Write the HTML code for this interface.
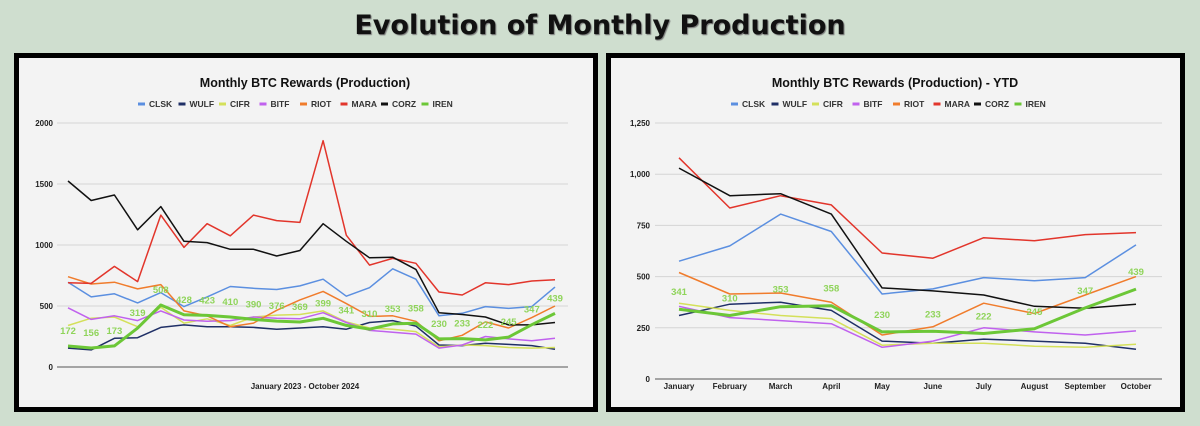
<!DOCTYPE html>
<html><head><meta charset="utf-8">
<style>
html,body{margin:0;padding:0;background:#cfdecf;width:1200px;height:426px;overflow:hidden;font-family:"Liberation Sans",sans-serif}
</style></head>
<body>
<svg id="svg" width="1200" height="426" xmlns="http://www.w3.org/2000/svg">
<rect x="0" y="0" width="1200" height="426" fill="#cfdecf"/>
<text x="600" y="34" text-anchor="middle" font-family="DejaVu Sans, sans-serif" font-weight="bold" font-size="27" fill="#111" style="text-shadow:1px 1px 1px #777">Evolution of Monthly Production</text>
<rect x="16.5" y="55.5" width="579" height="354" fill="#f3f3f3" stroke="#000" stroke-width="5"/>
<rect x="608.5" y="55.5" width="574" height="354" fill="#f3f3f3" stroke="#000" stroke-width="5"/>
<g id="left"></g>
<g id="right"></g>
</svg>
<script>
const series = ["CLSK","WULF","CIFR","BITF","RIOT","MARA","CORZ","IREN"];
const colors = ["#5b8fe0","#1f2f66","#d4e05a","#c061ee","#f07c2c","#e2352b","#111111","#6cc737"];
// Left chart: Jan 2023 - Oct 2024
const leftClsk = [695,575,600,525,610,495,575,660,645,635,665,720,580,650,805,720,420,440,495,480,495,655];
const leftWulf = [155,140,235,240,325,345,330,330,325,310,320,330,310,365,380,335,180,175,195,185,175,145];
const leftCifr = [340,400,410,330,490,360,395,340,410,425,430,460,370,320,310,290,165,180,175,160,155,160];
const leftBitf = [485,390,420,380,460,385,375,380,410,400,395,445,365,300,285,270,155,180,250,230,215,235];
const leftRiot = [740,680,695,640,675,460,420,330,360,465,550,620,520,415,420,375,215,260,370,320,405,500];
const leftMara = [690,685,825,700,1245,980,1175,1075,1245,1200,1185,1855,1080,835,890,850,615,590,690,675,705,715];
const leftCorz = [1525,1365,1410,1125,1315,1030,1020,965,965,910,955,1175,1030,895,900,800,445,430,410,345,345,365];
const leftIren = [172,156,173,319,508,428,423,410,390,376,369,399,341,310,353,358,230,233,222,245,347,439];
const leftTicks = [0,500,1000,1500,2000];
const leftTickLabels = ["0","500","1000","1500","2000"];
// Right chart: YTD 2024
const rightMonths = ["January","February","March","April","May","June","July","August","September","October"];
const rightClsk = [575,650,805,720,415,440,495,480,495,655];
const rightWulf = [310,365,375,335,185,175,195,185,175,145];
const rightCifr = [370,335,310,295,165,175,175,160,155,170];
const rightBitf = [355,300,285,270,155,185,250,230,215,235];
const rightRiot = [520,415,420,375,215,255,370,320,410,500];
const rightMara = [1080,835,895,850,615,590,690,675,705,715];
const rightCorz = [1030,895,905,805,445,430,410,355,345,365];
const rightIren = [341,310,353,358,230,233,222,245,347,439];
const rightTicks = [0,250,500,750,1000,1250];
const rightTickLabels = ["0","250","500","750","1,000","1,250"];

const NS="http://www.w3.org/2000/svg";
function mk(parent,tag,attrs,text){const e=document.createElementNS(NS,tag);for(const k in attrs)e.setAttribute(k,attrs[k]);if(text!==undefined)e.textContent=text;parent.appendChild(e);return e;}

function drawChart(g,cfg){
  const n=cfg.data[0].length;
  const xs=i=>cfg.x0+i*(cfg.x1-cfg.x0)/(n-1);
  const ys=v=>cfg.yBase-(v/cfg.yMax)*(cfg.yBase-cfg.yTop);
  let t=mk(g,"text",{x:cfg.cx,y:87,"text-anchor":"middle","font-size":"12.5","font-weight":"bold",fill:"#111"},cfg.title);
  
  
  series.forEach((s,k)=>{
    const lx=cfg.legX+k*cfg.legStep;
    const le=mk(g,"g",{});
    
    
    mk(le,"line",{x1:lx,y1:104,x2:lx+7,y2:104,stroke:colors[k],"stroke-width":3});
    mk(le,"text",{x:lx+11,y:107,"font-size":"8.5","font-weight":"bold",fill:"#333"},s);
  });
  cfg.ticks.forEach((v,i)=>{
    const y=ys(v);
    const gl=mk(g,"line",{x1:cfg.gx0,y1:y,x2:cfg.gx1,y2:y,stroke:v===0?"#555":"#d4d4d4","stroke-width":1});
    
    
    const tl=mk(g,"text",{x:cfg.labX,y:y+3,"text-anchor":"end","font-size":"8","font-weight":"bold",fill:"#222"},cfg.tickLabels[i]);
    
    
  });
  cfg.data.forEach((arr,k)=>{
    const pts=arr.map((v,i)=>xs(i).toFixed(1)+","+ys(v).toFixed(1)).join(" ");
    const pl=mk(g,"polyline",{points:pts,fill:"none",stroke:colors[k],"stroke-width":k===7?3:1.5,"stroke-linejoin":"round"});
    
    
  });
  const iren=cfg.data[7];
  iren.forEach((v,i)=>{
    const lb=mk(g,"text",{x:xs(i),y:ys(v)-cfg.labOff,"text-anchor":"middle","font-size":"9.5","font-weight":"bold",fill:"#8fd45a"},String(v));
    
    
  });
  if(cfg.months){
    cfg.months.forEach((m,i)=>{
      const ml=mk(g,"text",{x:xs(i),y:389,"text-anchor":"middle","font-size":"8","font-weight":"bold",fill:"#222"},m);
      
      
    });
  } else {
    const xl=mk(g,"text",{x:cfg.cx,y:389,"text-anchor":"middle","font-size":"8","font-weight":"bold",fill:"#222"},"January 2023 - October 2024");
    
    
  }
}
drawChart(document.getElementById("left"),{
  title:"Monthly BTC Rewards (Production)",cx:305,legX:138,legStep:40.5,
  data:[leftClsk,leftWulf,leftCifr,leftBitf,leftRiot,leftMara,leftCorz,leftIren],
  ticks:leftTicks,tickLabels:leftTickLabels,yMax:2000,yTop:123,yBase:367,
  x0:68,x1:555,gx0:57,gx1:568,labX:53,labOff:12
});
drawChart(document.getElementById("right"),{
  title:"Monthly BTC Rewards (Production) -  YTD",cx:895,legX:731,legStep:40.5,
  data:[rightClsk,rightWulf,rightCifr,rightBitf,rightRiot,rightMara,rightCorz,rightIren],
  ticks:rightTicks,tickLabels:rightTickLabels,yMax:1250,yTop:123,yBase:379,
  x0:679,x1:1136,gx0:655,gx1:1162,labX:650,labOff:14,months:rightMonths
});
</script>
</body></html>
